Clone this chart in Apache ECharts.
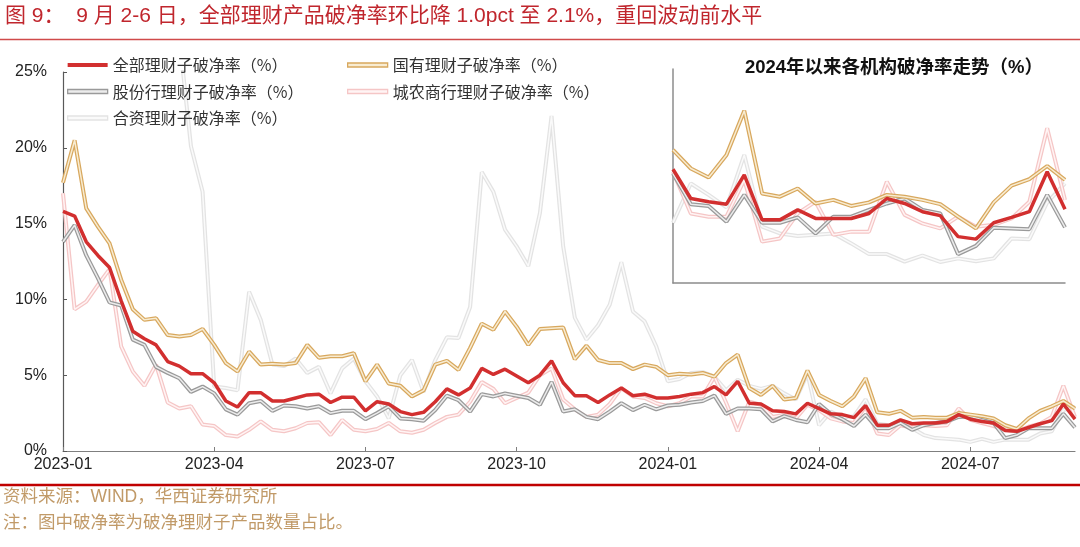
<!DOCTYPE html>
<html>
<head>
<meta charset="utf-8">
<script src="https://cdn.jsdelivr.net/npm/echarts@6/dist/echarts.min.js"></script>
<style>
  html, body { margin: 0; padding: 0; background: #fff; }
  #chart { width: 1080px; height: 547px; }
</style>
</head>
<body>
<div id="chart"></div>
<script>
// 周度日期（每周五）
const dates = [
  '2023-01-06','2023-01-13','2023-01-20','2023-01-27','2023-02-03','2023-02-10','2023-02-17','2023-02-24',
  '2023-03-03','2023-03-10','2023-03-17','2023-03-24','2023-03-31','2023-04-07','2023-04-14','2023-04-21',
  '2023-04-28','2023-05-05','2023-05-12','2023-05-19','2023-05-26','2023-06-02','2023-06-09','2023-06-16',
  '2023-06-23','2023-06-30','2023-07-07','2023-07-14','2023-07-21','2023-07-28','2023-08-04','2023-08-11',
  '2023-08-18','2023-08-25','2023-09-01','2023-09-08','2023-09-15','2023-09-22','2023-09-29','2023-10-06',
  '2023-10-13','2023-10-20','2023-10-27','2023-11-03','2023-11-10','2023-11-17','2023-11-24','2023-12-01',
  '2023-12-08','2023-12-15','2023-12-22','2023-12-29','2024-01-05','2024-01-12','2024-01-19','2024-01-26',
  '2024-02-02','2024-02-09','2024-02-16','2024-02-23','2024-03-01','2024-03-08','2024-03-15','2024-03-22',
  '2024-03-29','2024-04-05','2024-04-12','2024-04-19','2024-04-26','2024-05-03','2024-05-10','2024-05-17',
  '2024-05-24','2024-05-31','2024-06-07','2024-06-14','2024-06-21','2024-06-28','2024-07-05','2024-07-12',
  '2024-07-19','2024-07-26','2024-08-02','2024-08-09','2024-08-16','2024-08-23','2024-08-30','2024-09-06'
]

// 全部理财子破净率（%）
const allRate = [
  15.8, 15.5, 13.8, 12.9, 12.1, 9.9, 7.9, 7.4, 7.0, 5.9,
  5.6, 5.1, 5.1, 4.5, 3.3, 2.9, 3.85, 3.85, 3.3, 3.3,
  3.5, 3.7, 3.75, 3.2, 3.55, 3.55, 2.65, 3.25, 3.1, 2.6,
  2.4, 2.55, 3.25, 4.1, 3.7, 4.15, 5.45, 5.05, 5.4, 4.95,
  4.5, 5.0, 5.95, 4.5, 3.65, 3.65, 3.2, 3.7, 4.15, 3.65,
  3.75, 3.5, 3.5, 3.6, 3.75, 3.85, 4.25, 3.7, 4.6, 3.15,
  3.1, 2.65, 2.6, 2.45, 3.15, 2.8, 2.45, 2.4, 2.2, 3.0,
  1.7, 1.7, 2.05, 1.8, 1.85, 1.85, 1.95, 2.4, 2.1, 1.95,
  1.85, 1.35, 1.3, 1.55, 1.8, 2.0, 3.1, 2.1
]
// 国有理财子破净率（%）
const stateRate = [
  17.7, 20.5, 16.0, 14.8, 13.7, 11.3, 9.35, 8.65, 8.75, 7.65,
  7.55, 7.65, 8.05, 7.0, 5.8, 5.25, 6.55, 5.7, 5.75, 5.7,
  5.8, 7.0, 6.15, 6.25, 6.25, 6.45, 4.6, 5.7, 4.45, 4.3,
  3.6, 4.0, 5.7, 5.95, 5.35, 6.8, 8.4, 8.0, 9.2, 8.2,
  7.0, 8.05, 8.1, 8.15, 6.05, 6.95, 6.0, 5.8, 5.8, 5.4,
  5.7, 5.55, 5.0, 5.1, 5.05, 5.15, 4.9, 5.8, 6.35, 4.15,
  3.7, 4.3, 3.4, 3.5, 5.3, 3.7, 3.3, 2.95, 3.6, 4.8,
  2.55, 2.45, 2.65, 2.2, 2.25, 2.2, 2.2, 2.5, 2.4, 2.3,
  2.15, 1.7, 1.45, 2.15, 2.65, 2.95, 3.3, 2.8
]
// 股份行理财子破净率（%）
const jointRate = [
  13.8, 14.9, 12.9, 11.4, 9.8, 9.6, 7.35, 7.0, 5.55, 5.15,
  4.8, 3.9, 4.25, 3.8, 2.75, 2.4, 3.15, 3.3, 2.65, 3.0,
  2.95, 2.8, 2.95, 2.5, 2.65, 2.65, 2.1, 2.5, 2.95, 2.15,
  2.1, 2.0, 2.7, 3.65, 3.35, 2.6, 3.75, 3.6, 3.8, 3.65,
  3.5, 3.05, 4.55, 2.6, 2.75, 2.25, 2.1, 2.6, 3.15, 2.7,
  3.05, 2.75, 3.0, 3.05, 3.2, 3.3, 3.65, 2.45, 2.8, 2.8,
  2.75, 1.95, 2.3, 2.05, 1.9, 3.1, 2.45, 2.1, 1.65, 2.4,
  1.5, 1.5, 1.85, 1.4, 1.7, 1.85, 1.95, 2.25, 2.3, 2.05,
  1.85, 0.85, 1.05, 1.5, 1.5, 1.5, 2.45, 1.55
]
// 城农商行理财子破净率（%）
const ruralRate = [
  17.0, 9.35, 9.85, 10.95, 12.0, 6.9, 5.25, 4.3, 5.7, 3.2,
  2.8, 2.95, 1.75, 1.65, 1.05, 0.95, 1.4, 1.95, 1.4, 1.3,
  1.5, 1.85, 1.9, 1.05, 2.05, 1.4, 1.3, 1.45, 1.85, 1.3,
  1.2, 1.4, 1.85, 2.25, 2.4, 3.25, 4.55, 4.1, 3.15, 3.5,
  3.85, 5.0, 5.45, 3.4, 2.75, 2.25, 2.4, 3.1, 4.15, 3.6,
  3.5, 3.15, 2.95, 3.15, 3.6, 3.6, 4.9, 3.2, 1.3, 3.25,
  3.05, 2.25, 2.4, 2.15, 3.05, 2.7, 2.15, 1.95, 1.85, 2.95,
  1.15, 1.05, 1.7, 1.55, 1.7, 1.65, 1.7, 2.8, 2.05, 1.85,
  1.65, 1.4, 1.3, 1.6, 1.8, 2.25, 4.3, 2.25
]
// 合资理财子破净率（%），年初高于 25% 的部分在图外
const jvRate = [
  26.5, 28.0, 29.0, 30.0, 29.5, 28.5, 29.0, 30.0, 28.0, 27.5,
  27.3, 20.1, 17.1, 4.25, 4.15, 4.0, 10.5, 8.65, 5.7, 5.6,
  6.1, 5.15, 5.55, 3.8, 5.45, 6.1, 4.6, 3.6, 2.15, 5.0,
  6.0, 3.9, 6.0, 7.5, 7.45, 9.5, 18.4, 17.1, 14.6, 13.5,
  12.2, 15.7, 22.1, 13.5, 8.8, 7.35, 8.3, 9.65, 12.45, 9.2,
  8.55, 6.9, 4.6, 4.75, 5.15, 5.2, 4.9, 4.0, 4.7, 4.3,
  4.1, 4.3, 3.8, 3.4, 5.1, 1.7, 2.6, 2.2, 2.3, 3.4,
  1.8, 1.7, 1.8, 1.5, 1.05, 0.85, 0.8, 0.75, 0.6, 0.8,
  0.6, 0.75, 0.75, 0.75, 1.15, 1.3, 2.7, 2.9
]

// 小图：2024年以来
const insetLabels = [
  '1','2','3','4','5','6','7','8','9','10','11','12',
  '13','14','15','16','17','18','19','20','21','22','23'
]
const insetAll = [3.19, 2.37, 2.28, 2.21, 3.03, 1.77, 1.77, 2.05, 1.81, 1.81, 1.81, 1.95, 2.37, 2.23, 2.0, 1.89, 1.3, 1.23, 1.69, 1.84, 2.0, 3.12, 2.07]
const insetState = [3.73, 3.21, 2.96, 3.59, 4.83, 2.51, 2.42, 2.65, 2.23, 2.33, 2.16, 2.26, 2.47, 2.42, 2.33, 2.21, 1.86, 1.53, 2.26, 2.73, 2.91, 3.28, 2.89]
const insetJoint = [3.07, 2.21, 2.16, 1.72, 2.47, 1.69, 1.69, 1.84, 1.39, 1.86, 1.86, 2.05, 2.23, 2.37, 2.05, 1.95, 0.81, 1.04, 1.55, 1.53, 1.51, 2.47, 1.56]
const insetRural = [3.12, 1.95, 1.86, 1.86, 2.89, 1.16, 1.25, 1.95, 2.28, 1.35, 1.44, 1.44, 2.84, 1.91, 1.67, 1.53, 1.86, 1.58, 1.63, 1.81, 2.28, 4.34, 2.33]
const insetJv = [1.69, 2.79, 2.47, 2.12, 3.59, 1.58, 1.39, 1.32, 1.35, 1.39, 1.11, 0.81, 0.81, 0.6, 0.77, 0.59, 0.69, 0.61, 0.69, 1.25, 1.23, 2.26, 2.79]

const yTicks = [0, 5, 10, 15, 20, 25]

const names = {
  all: '全部理财子破净率（%）',
  state: '国有理财子破净率（%）',
  joint: '股份行理财子破净率（%）',
  rural: '城农商行理财子破净率（%）',
  jv: '合资理财子破净率（%）'
}

const styles = {
  all: { color: '#d22f2f' },
  state: { outer: '#d8a85e', inner: '#f8ecd2' },
  joint: { outer: '#9a9a9a', inner: '#ececec' },
  rural: { outer: '#f5c6c6', inner: '#fff4f4' },
  jv: { outer: '#e3e3e3', inner: '#fafafa' }
}

const cnFont = "'Noto Sans CJK SC', sans-serif"
const latinFont = "'Liberation Sans', 'Noto Sans CJK SC', sans-serif"

// 双线描边效果：外层深色宽线 + 内层浅色细线
function hollowLine(key, data, gi) {
  const s = styles[key]
  const base = {
    name: names[key],
    type: 'line',
    data: data,
    symbol: 'none',
    xAxisIndex: gi,
    yAxisIndex: gi,
    silent: true
  }
  return [
    Object.assign({}, base, { lineStyle: { color: s.outer, width: 4 }, itemStyle: { color: s.outer } }),
    Object.assign({}, base, { lineStyle: { color: s.inner, width: 1.5 }, itemStyle: { color: s.outer } })
  ]
}

function solidLine(key, data, gi) {
  return {
    name: names[key],
    type: 'line',
    data: data,
    symbol: 'none',
    xAxisIndex: gi,
    yAxisIndex: gi,
    silent: true,
    lineStyle: { color: styles.all.color, width: 3.5 },
    itemStyle: { color: styles.all.color }
  }
}

function buildSeries(set, gi) {
  return [].concat(
    hollowLine('jv', set.jv, gi),
    hollowLine('rural', set.rural, gi),
    hollowLine('joint', set.joint, gi),
    hollowLine('state', set.state, gi),
    [solidLine('all', set.all, gi)]
  )
}

function legendItem(key) {
  if (key === 'all') {
    return { name: names[key], itemStyle: { color: styles.all.color, borderWidth: 0 } }
  }
  return { name: names[key], itemStyle: { color: styles[key].inner, borderColor: styles[key].outer, borderWidth: 1.3 } }
}

const quarterStart = (idx, val) => {
  const m = val.slice(5, 7)
  const d = +val.slice(8, 10)
  return d <= 7 && ['01', '04', '07', '10'].indexOf(m) > -1
}

const legendBase = {
  orient: 'vertical',
  top: 52,
  icon: 'rect',
  itemWidth: 40,
  itemHeight: 4,
  itemGap: 10.5,
  selectedMode: false,
  textStyle: { fontSize: 16, color: '#333', fontFamily: cnFont }
}

const chart = echarts.init(document.getElementById('chart'))

const option = {
  animation: false,
  backgroundColor: '#fff',
  legend: [
    Object.assign({}, legendBase, { left: 62, data: [legendItem('all'), legendItem('joint'), legendItem('jv')] }),
    Object.assign({}, legendBase, { left: 342, data: [legendItem('state'), legendItem('rural')] })
  ],
  grid: [
    { left: 63, right: 5, top: 72, bottom: 96 },
    { left: 673, right: 15, top: 69, bottom: 264 }
  ],
  xAxis: [
    {
      type: 'category',
      gridIndex: 0,
      data: dates,
      boundaryGap: false,
      axisLine: { lineStyle: { color: '#7f7f7f', width: 1.2 } },
      axisTick: { inside: true, length: 4, interval: quarterStart, lineStyle: { color: '#7f7f7f' } },
      axisLabel: {
        interval: quarterStart,
        formatter: v => v.slice(0, 7),
        fontSize: 16,
        color: '#222',
        margin: 6,
        fontFamily: latinFont
      }
    },
    {
      type: 'category',
      gridIndex: 1,
      data: insetLabels,
      boundaryGap: false,
      axisLine: { lineStyle: { color: '#8c8c8c', width: 1.5 } },
      axisTick: { show: false },
      axisLabel: { show: false }
    }
  ],
  yAxis: [
    {
      type: 'value',
      gridIndex: 0,
      min: yTicks[0],
      max: yTicks[yTicks.length - 1],
      interval: 5,
      splitLine: { show: false },
      axisLine: { show: true, lineStyle: { color: '#595959', width: 1.2 } },
      axisTick: { show: true, inside: true, length: 4, lineStyle: { color: '#595959' } },
      axisLabel: { formatter: '{value}%', fontSize: 16, color: '#222', margin: 16, fontFamily: latinFont }
    },
    {
      type: 'value',
      gridIndex: 1,
      min: 0,
      max: 6,
      splitLine: { show: false },
      axisLine: { show: true, lineStyle: { color: '#8c8c8c', width: 1.5 } },
      axisTick: { show: false },
      axisLabel: { show: false }
    }
  ],
  series: [].concat(
    buildSeries({ all: allRate, state: stateRate, joint: jointRate, rural: ruralRate, jv: jvRate }, 0),
    buildSeries({ all: insetAll, state: insetState, joint: insetJoint, rural: insetRural, jv: insetJv }, 1)
  ),
  graphic: [
    {
      type: 'text',
      left: 5,
      top: 6,
      style: {
        text: '图 9：  9 月 2-6 日，全部理财产品破净率环比降 1.0pct 至 2.1%，重回波动前水平',
        font: '21px ' + latinFont,
        fill: '#c0262d'
      }
    },
    {
      type: 'line',
      shape: { x1: 0, y1: 39.5, x2: 1080, y2: 39.5 },
      style: { stroke: '#d04a4a', lineWidth: 1.5 }
    },
    {
      type: 'text',
      x: 894,
      y: 68,
      style: {
        text: '2024年以来各机构破净率走势（%）',
        font: 'bold 18.5px ' + latinFont,
        fill: '#111',
        textAlign: 'center',
        textVerticalAlign: 'middle'
      }
    },
    {
      type: 'line',
      shape: { x1: 0, y1: 485, x2: 1080, y2: 485 },
      style: { stroke: '#c00000', lineWidth: 2.5 }
    },
    {
      type: 'text',
      left: 3,
      top: 488,
      style: { text: '资料来源：WIND，华西证券研究所', font: '17.5px ' + latinFont, fill: '#c19a68' }
    },
    {
      type: 'text',
      left: 3,
      top: 513,
      style: { text: '注：图中破净率为破净理财子产品数量占比。', font: '17.5px ' + cnFont, fill: '#c19a68' }
    }
  ]
}

chart.setOption(option)
</script>
</body>
</html>
